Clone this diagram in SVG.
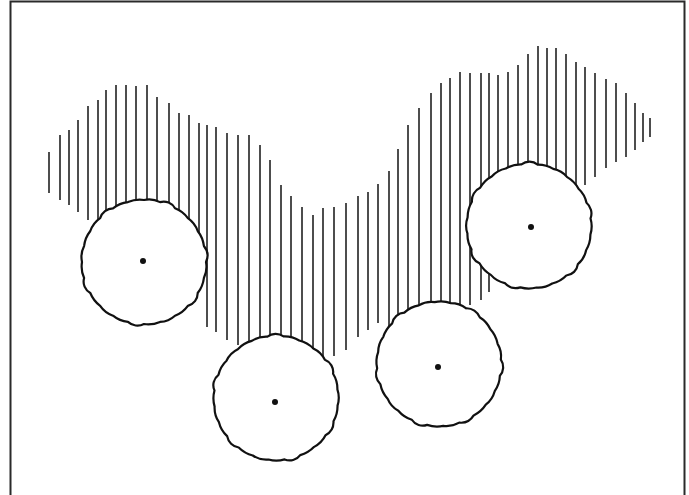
<svg xmlns="http://www.w3.org/2000/svg" width="689" height="495" viewBox="0 0 689 495">
<style>
.frame{fill:none;stroke:#2a2a2a;stroke-width:2}
.hatch line{stroke:#2e2e2e;stroke-width:1.7}
.canopy{fill:#fff;stroke:#111;stroke-width:2.2;stroke-linejoin:round}
.dot{fill:#111}
</style>
<defs>
<path id="canopy" class="canopy" d="M62,0 A26,26 0 0 1 59.89,16.05 A30,30 0 0 1 53.69,31 A13,13 0 0 1 43.84,43.84 A28,28 0 0 1 31,53.69 A24,24 0 0 1 16.05,59.89 A30,30 0 0 1 0,62 A14,14 0 0 1 -16.05,59.89 A28,28 0 0 1 -31,53.69 A26,26 0 0 1 -43.84,43.84 A30,30 0 0 1 -53.69,31 A13,13 0 0 1 -59.89,16.05 A28,28 0 0 1 -62,0 A24,24 0 0 1 -59.89,-16.05 A30,30 0 0 1 -53.69,-31 A26,26 0 0 1 -43.84,-43.84 A14,14 0 0 1 -31,-53.69 A28,28 0 0 1 -16.05,-59.89 A30,30 0 0 1 0,-62 A24,24 0 0 1 16.05,-59.89 A13,13 0 0 1 31,-53.69 A28,28 0 0 1 43.84,-43.84 A26,26 0 0 1 53.69,-31 A30,30 0 0 1 59.89,-16.05 A15,15 0 0 1 62,0 Z"/>
</defs>
<rect width="689" height="495" fill="#fff"/>
<path class="frame" d="M10.5,496 V1.5 H684.5 V496"/>
<g id="hatching" class="hatch">
<line x1="49" y1="152" x2="49" y2="193"/>
<line x1="60" y1="135" x2="60" y2="200"/>
<line x1="69" y1="130" x2="69" y2="205"/>
<line x1="78" y1="120" x2="78" y2="212"/>
<line x1="88" y1="106" x2="88" y2="220"/>
<line x1="98" y1="100" x2="98" y2="262"/>
<line x1="106" y1="90" x2="106" y2="262"/>
<line x1="116" y1="85" x2="116" y2="262"/>
<line x1="126" y1="85" x2="126" y2="262"/>
<line x1="136" y1="86" x2="136" y2="262"/>
<line x1="147" y1="85" x2="147" y2="262"/>
<line x1="157" y1="97" x2="157" y2="262"/>
<line x1="169" y1="103" x2="169" y2="262"/>
<line x1="179" y1="113" x2="179" y2="262"/>
<line x1="189" y1="115" x2="189" y2="262"/>
<line x1="199" y1="123" x2="199" y2="262"/>
<line x1="207" y1="125" x2="207" y2="327"/>
<line x1="216" y1="127" x2="216" y2="332"/>
<line x1="227" y1="133" x2="227" y2="340"/>
<line x1="238" y1="135" x2="238" y2="345"/>
<line x1="249" y1="135" x2="249" y2="398"/>
<line x1="260" y1="145" x2="260" y2="398"/>
<line x1="270" y1="160" x2="270" y2="398"/>
<line x1="281" y1="185" x2="281" y2="398"/>
<line x1="291" y1="196" x2="291" y2="398"/>
<line x1="302" y1="207" x2="302" y2="398"/>
<line x1="313" y1="215" x2="313" y2="398"/>
<line x1="323" y1="208" x2="323" y2="398"/>
<line x1="334" y1="207" x2="334" y2="356"/>
<line x1="346" y1="203" x2="346" y2="350"/>
<line x1="358" y1="196" x2="358" y2="337"/>
<line x1="368" y1="192" x2="368" y2="330"/>
<line x1="378" y1="184" x2="378" y2="323"/>
<line x1="389" y1="171" x2="389" y2="364"/>
<line x1="398" y1="149" x2="398" y2="364"/>
<line x1="408" y1="125" x2="408" y2="364"/>
<line x1="419" y1="108" x2="419" y2="364"/>
<line x1="431" y1="93" x2="431" y2="364"/>
<line x1="441" y1="83" x2="441" y2="364"/>
<line x1="450" y1="78" x2="450" y2="364"/>
<line x1="460" y1="72" x2="460" y2="364"/>
<line x1="470" y1="73" x2="470" y2="305"/>
<line x1="481" y1="73" x2="481" y2="300"/>
<line x1="489" y1="73" x2="489" y2="292"/>
<line x1="498" y1="75" x2="498" y2="225"/>
<line x1="508" y1="72" x2="508" y2="225"/>
<line x1="518" y1="65" x2="518" y2="225"/>
<line x1="528" y1="54" x2="528" y2="225"/>
<line x1="538" y1="46" x2="538" y2="225"/>
<line x1="547" y1="48" x2="547" y2="225"/>
<line x1="556" y1="48" x2="556" y2="225"/>
<line x1="566" y1="54" x2="566" y2="225"/>
<line x1="576" y1="62" x2="576" y2="225"/>
<line x1="585" y1="67" x2="585" y2="185"/>
<line x1="595" y1="73" x2="595" y2="177"/>
<line x1="606" y1="79" x2="606" y2="168"/>
<line x1="616" y1="83" x2="616" y2="162"/>
<line x1="626" y1="93" x2="626" y2="157"/>
<line x1="635" y1="103" x2="635" y2="150"/>
<line x1="643" y1="113" x2="643" y2="142"/>
<line x1="650" y1="118" x2="650" y2="137"/>
</g>
<g id="tree1">
<use href="#canopy" transform="translate(144,262)"/>
<circle class="dot" cx="143" cy="261" r="3"/>
</g>
<g id="tree2">
<use href="#canopy" transform="translate(276,398) rotate(37)"/>
<circle class="dot" cx="275" cy="402" r="3"/>
</g>
<g id="tree3">
<use href="#canopy" transform="translate(439,364) rotate(71)"/>
<circle class="dot" cx="438" cy="367" r="3"/>
</g>
<g id="tree4">
<use href="#canopy" transform="translate(529,226) rotate(113)"/>
<circle class="dot" cx="531" cy="227" r="3"/>
</g>
</svg>
